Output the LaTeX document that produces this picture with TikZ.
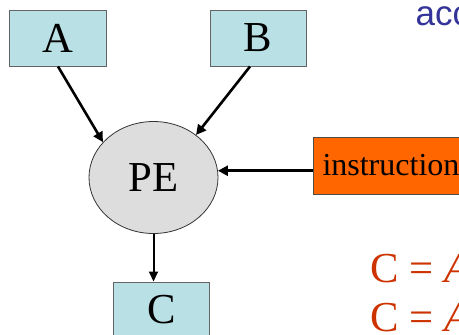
\documentclass[tikz,border=0pt]{standalone}
\usepackage{fontspec}
\setmainfont{Liberation Serif}
\newfontfamily\arialfont{Liberation Sans}
\usetikzlibrary{arrows.meta,shapes.geometric,calc}
\definecolor{boxfill}{RGB}{185,224,228}
\definecolor{boxline}{RGB}{100,100,100}
\definecolor{pefill}{RGB}{221,221,221}
\definecolor{instrfill}{RGB}{255,102,0}
\definecolor{redtext}{RGB}{204,51,0}
\definecolor{bluetext}{RGB}{51,51,153}
\tikzset{
  databox/.style={draw=boxline, line width=1bp, fill=boxfill, minimum width=96bp, minimum height=56bp, inner sep=0pt, font=\fontsize{42.7bp}{48bp}\selectfont},
  penode/.style={ellipse, draw=black!80, line width=0.8bp, fill=pefill, minimum width=129bp, minimum height=112bp, inner sep=0pt, font=\fontsize{42.7bp}{48bp}\selectfont},
  instrbox/.style={draw=black!70, line width=1bp, fill=instrfill, minimum height=57bp, inner xsep=9bp, inner ysep=0pt, font=\fontsize{32bp}{36bp}\selectfont},
  arr/.style={line width=2.6bp, -{Triangle[length=10bp,width=10bp]}},
  eqtext/.style={text=redtext, font=\fontsize{42.7bp}{48bp}\selectfont, inner sep=0pt},
}
\begin{document}
\begin{tikzpicture}[x=1bp,y=-1bp]
\useasboundingbox (0,0) rectangle (459,334);
\node[databox] (A) at (58,38) {A};
\node[databox] (B) at (258,38) {B};
\node[penode] (PE) at (153.5,177.5) {PE};
\node[instrbox, anchor=west] (instr) at (313,165.5) {instruction};
\node[databox] (C) at (161.5,310) {C};
\draw[arr] (A.south) -- (PE.145);
\draw[arr] ($(B.south)+(-8,0)$) -- (PE.45);
\draw[arr] (instr.west |- PE.6) -- (PE.6);
\draw[line width=2bp, -{Triangle[length=10bp,width=9bp]}] (PE.south) -- (PE.south |- C.north);
\node[eqtext, anchor=base west] (eq1) at (370,282) {C = \textit{A}};
\node[eqtext, anchor=base west] (eq2) at (370,331) {C = \textit{A}};
\node[anchor=base west, inner sep=0pt, text=bluetext, font=\arialfont\fontsize{35bp}{40bp}\selectfont] (acc) at (415.5,25) {acc};
\end{tikzpicture}
\end{document}
